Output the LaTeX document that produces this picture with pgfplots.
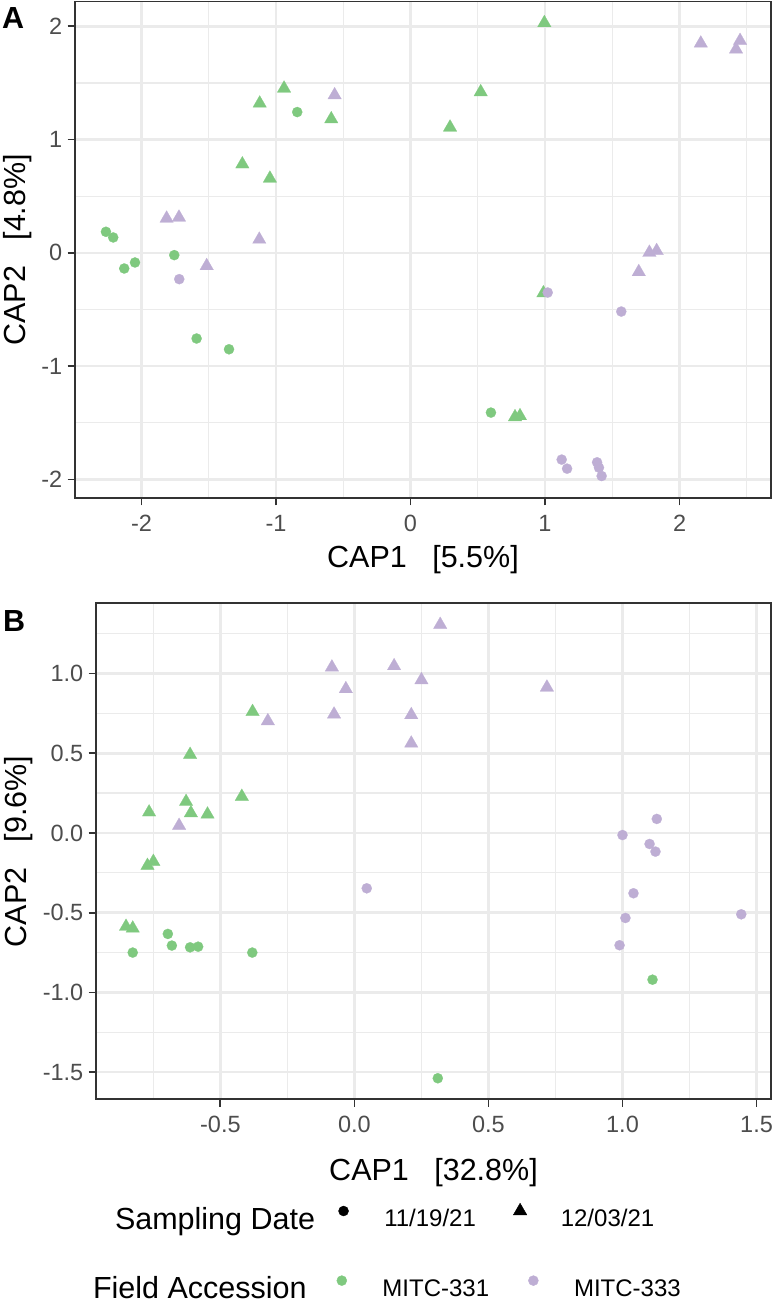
\documentclass[border=0pt]{standalone}
\usepackage{fontspec}
\setmainfont{Liberation Sans}
\usepackage{pgfplots}
\pgfplotsset{compat=1.18}
\definecolor{grn}{HTML}{7FC97F}
\definecolor{prp}{HTML}{BEAED4}
\definecolor{gridc}{HTML}{EBEBEB}
\definecolor{bord}{HTML}{333333}
\definecolor{tickc}{HTML}{4D4D4D}
\pgfplotsset{
  ggbase/.style={
    scale only axis, anchor=north west,
    grid=both,
    major grid style={gridc, line width=2.6pt},
    minor grid style={gridc, line width=1.3pt},
    axis line style={bord, line width=1.8pt},
    every tick/.style={bord, line width=1.8pt},
    major tick length=7.4pt, minor tick length=0pt,
    tick align=outside, xtick pos=bottom, ytick pos=left,
    xticklabel style={font=\fontsize{23.5}{23.5}\selectfont, text=tickc, anchor=base, inner sep=0pt, yshift=-25.6pt},
    yticklabel style={font=\fontsize{23.5}{23.5}\selectfont, text=tickc, anchor=east, inner sep=0pt, xshift=-5.1pt},
  },
  gc/.style={only marks, mark=*, color=grn, mark size=5.1pt, mark options={line width=0.2pt}},
  pc/.style={only marks, mark=*, color=prp, mark size=5.1pt, mark options={line width=0.2pt}},
  gt/.style={only marks, mark=triangle*, color=grn, mark size=7.8pt, mark options={line width=0.2pt}},
  pt/.style={only marks, mark=triangle*, color=prp, mark size=7.8pt, mark options={line width=0.2pt}},
}
\begin{document}
\begin{tikzpicture}
\useasboundingbox (0pt,0pt) rectangle (773pt,-1305pt);
% ---------------- Panel A ----------------
\begin{axis}[ggbase,
  at={(75pt,-1.5pt)}, width=696pt, height=496.5pt,
  xmin=-2.494, xmax=2.68, ymin=-2.164, ymax=2.219,
  xtick={-2,-1,0,1,2}, xticklabels={-2,-1,0,1,2},
  ytick={-2,-1,0,1,2}, yticklabels={-2,-1,0,1,2},
  minor xtick={-1.5,-0.5,0.5,1.5,2.5},
  minor ytick={-1.5,-0.5,0.5,1.5},
  xlabel={CAP1\ \ \ [5.5\%]}, ylabel={CAP2\ \ \ [4.8\%]},
  every axis x label/.style={at={(axis description cs:0.5,-0.139)}, anchor=base, font=\fontsize{30.5}{30.5}\selectfont, text=black},
  every axis y label/.style={at={(axis description cs:-0.0704,0.5)}, rotate=90, anchor=base, font=\fontsize{30.5}{30.5}\selectfont, text=black},
]
\addplot[gc] table {
x y
-2.264 0.186
-2.210 0.136
-2.128 -0.138
-2.048 -0.085
-1.756 -0.020
-0.842 1.243
-1.590 -0.756
-1.349 -0.851
0.598 -1.410
};
\addplot[gt] table {
x y
-1.121 1.320
-0.940 1.452
-0.589 1.181
-1.250 0.783
-1.045 0.657
0.995 2.030
0.522 1.420
0.294 1.108
0.988 -0.355
0.777 -1.449
0.814 -1.440
};
\addplot[pc] table {
x y
-1.719 -0.232
1.020 -0.350
1.567 -0.518
1.124 -1.825
1.164 -1.905
1.387 -1.849
1.401 -1.896
1.421 -1.970
};
\addplot[pt] table {
x y
-1.813 0.304
-1.721 0.313
-1.124 0.118
-1.515 -0.115
-0.564 1.393
2.158 1.850
2.450 1.873
2.420 1.797
1.776 0.003
1.830 0.018
1.697 -0.168
};
\end{axis}
% ---------------- Panel B ----------------
\begin{axis}[ggbase,
  at={(96pt,-603.3pt)}, width=675pt, height=496pt,
  xmin=-0.964, xmax=1.554, ymin=-1.67, ymax=1.44,
  xtick={-0.5,0,0.5,1,1.5}, xticklabels={-0.5,0.0,0.5,1.0,1.5},
  ytick={-1.5,-1,-0.5,0,0.5,1}, yticklabels={-1.5,-1.0,-0.5,0.0,0.5,1.0},
  minor xtick={-0.75,-0.25,0.25,0.75,1.25},
  minor ytick={-1.25,-0.75,-0.25,0.25,0.75,1.25},
  xlabel={CAP1\ \ \ [32.8\%]}, ylabel={CAP2\ \ \ [9.6\%]},
  every axis x label/.style={at={(axis description cs:0.5,-0.164)}, anchor=base, font=\fontsize{30.5}{30.5}\selectfont, text=black},
  every axis y label/.style={at={(axis description cs:-0.1037,0.5)}, rotate=90, anchor=base, font=\fontsize{30.5}{30.5}\selectfont, text=black},
]
\addplot[gt] table {
x y
-0.766 0.130
-0.613 0.491
-0.628 0.196
-0.610 0.125
-0.548 0.117
-0.420 0.228
-0.380 0.760
-0.772 -0.205
-0.750 -0.180
-0.852 -0.587
-0.827 -0.598
};
\addplot[gc] table {
x y
1.112 -0.920
0.311 -1.538
-0.827 -0.750
-0.696 -0.633
-0.681 -0.706
-0.613 -0.717
-0.583 -0.713
-0.381 -0.750
};
\addplot[pt] table {
x y
-0.654 0.046
-0.323 0.702
-0.084 1.039
-0.032 0.903
-0.076 0.744
0.148 1.047
0.320 1.306
0.250 0.959
0.212 0.740
0.212 0.562
0.718 0.913
};
\addplot[pc] table {
x y
1.128 0.088
1.000 -0.013
1.101 -0.069
1.123 -0.117
1.041 -0.378
1.011 -0.533
0.989 -0.704
1.443 -0.510
0.046 -0.347
};
\end{axis}
\node[anchor=base west, inner sep=0pt, font=\fontsize{30.5}{30.5}\selectfont\bfseries] at (2pt,-28.3pt) {A};
\node[anchor=base west, inner sep=0pt, font=\fontsize{30.5}{30.5}\selectfont\bfseries] at (3pt,-631.7pt) {B};
% ---------------- Legends ----------------
\begin{axis}[hide axis, scale only axis, width=773pt, height=10pt, anchor=west, at={(0pt,-1217pt)},
  xmin=0, xmax=773, ymin=0, ymax=1,
  legend columns=-1,
  legend style={at={(axis cs:115,0.5)}, anchor=west, draw=none, fill=none, inner sep=0pt, outer sep=0pt, column sep=0pt,
    nodes={inner sep=0pt, text=black, font=\fontsize{24}{24}\selectfont}},
  legend image code/.code={\path (-44pt,0pt) (40.5pt,0pt); \draw[#1] plot coordinates {(0pt,8pt)};}]
\addlegendimage{empty legend}
\addlegendentry{\fontsize{30.5}{30.5}\selectfont Sampling Date\kern-15.7pt}
\addlegendimage{only marks, mark=*, black, mark size=5pt}
\addlegendentry{11/19/21}
\addlegendimage{only marks, mark=triangle*, black, mark size=7.8pt}
\addlegendentry{12/03/21}
\end{axis}
\begin{axis}[hide axis, scale only axis, width=773pt, height=10pt, anchor=west, at={(0pt,-1288pt)},
  xmin=0, xmax=773, ymin=0, ymax=1,
  legend columns=-1,
  legend style={at={(axis cs:93,0.5)}, anchor=west, draw=none, fill=none, inner sep=0pt, outer sep=0pt, column sep=0pt,
    nodes={inner sep=0pt, text=black, font=\fontsize{24}{24}\selectfont}},
  legend image code/.code={\path (-44pt,0pt) (40.5pt,0pt); \draw[#1] plot coordinates {(0pt,8pt)};}]
\addlegendimage{empty legend}
\addlegendentry{\fontsize{30.5}{30.5}\selectfont Field Accession\kern-9pt}
\addlegendimage{only marks, mark=*, grn, mark size=5pt}
\addlegendentry{MITC-331}
\addlegendimage{only marks, mark=*, prp, mark size=5pt}
\addlegendentry{MITC-333}
\end{axis}
\end{tikzpicture}
\end{document}
